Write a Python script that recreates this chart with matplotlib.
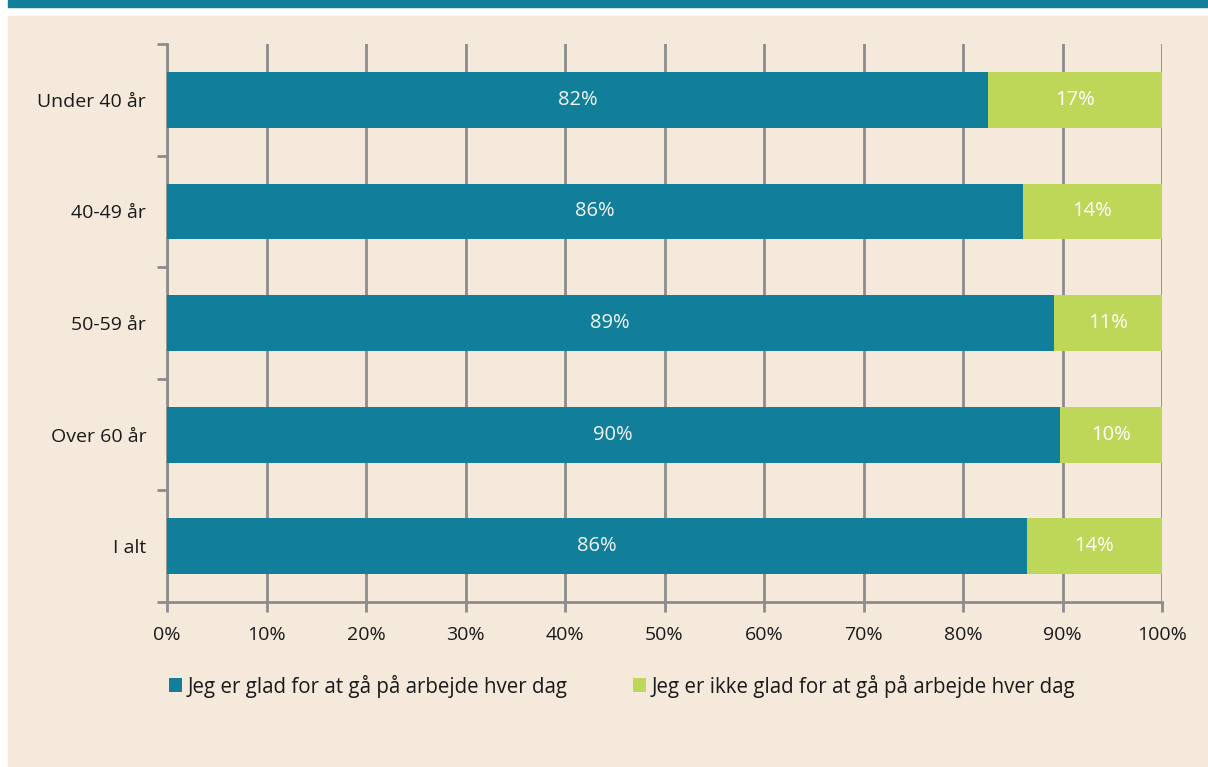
import matplotlib
matplotlib.use("Agg")
import matplotlib.pyplot as plt
from matplotlib.patches import Rectangle
import numpy as np

plt.rcParams["font.family"] = ["Open Sans", "DejaVu Sans"]

# ── Data ──────────────────────────────────────────────────────────────────────
categories = ["Under 40 år", "40-49 år", "50-59 år", "Over 60 år", "I alt"]
glad = [82.5, 86.0, 89.1, 89.7, 86.4]
ikke_glad = [17.5, 14.0, 10.9, 10.3, 13.6]
glad_labels = ["82%", "86%", "89%", "90%", "86%"]
ikke_labels = ["17%", "14%", "11%", "10%", "14%"]
series_names = ["Jeg er glad for at gå på arbejde hver dag",
                "Jeg er ikke glad for at gå på arbejde hver dag"]
x_ticks = list(range(0, 101, 10))

TEAL = "#117E9A"
GREEN = "#BDD758"
BEIGE = "#F5E9DC"
GRID = "#8C8C8C"
TEXT = "#1A1A1A"
FS = 14

W, H = 1208, 767
fig = plt.figure(figsize=(W / 100, H / 100), dpi=100, facecolor="white")

# background panels (behind the axes)
fig.patches.append(Rectangle((8 / W, 0), 1 - 8 / W, (H - 16) / H,
                             transform=fig.transFigure, color=BEIGE, zorder=-10))
fig.patches.append(Rectangle((8 / W, (H - 7) / H), 1 - 8 / W, 7 / H,
                             transform=fig.transFigure, color=TEAL, zorder=-10))

ax = fig.add_axes([167 / W, (H - 602) / H, (1162 - 167) / W, (602 - 44) / H])
ax.set_facecolor("none")

y = np.arange(len(categories)) + 0.5
ax.barh(y, glad, height=0.5, color=TEAL, zorder=3, label=series_names[0])
ax.barh(y, ikke_glad, left=glad, height=0.5, color=GREEN, zorder=3,
        label=series_names[1])

for yi, g, n, gl, nl in zip(y, glad, ikke_glad, glad_labels, ikke_labels):
    ax.text(g / 2, yi, gl, ha="center", va="center", color="#F4F4F4",
            fontsize=14.5, zorder=4)
    ax.text(g + n / 2, yi, nl, ha="center", va="center", color="white",
            fontsize=14.5, zorder=4)

ax.set_xlim(0, 100)
ax.set_ylim(len(categories), 0)
ax.set_xticks(x_ticks)
ax.set_xticklabels([f"{t}%" for t in x_ticks])
ax.xaxis.grid(True, color=GRID, linewidth=2, zorder=1)
ax.set_axisbelow(True)

ax.set_yticks(np.arange(len(categories) + 1))
ax.set_yticklabels([])
ax.set_yticks(y, minor=True)
ax.set_yticklabels(categories, minor=True)
ax.tick_params(axis="y", which="major", length=7, width=2, color=GRID)
ax.tick_params(axis="y", which="minor", length=0, pad=15)
ax.tick_params(axis="x", length=7, width=2, color=GRID, pad=10)
ax.tick_params(which="both", labelsize=FS, labelcolor=TEXT)

for side in ["top", "right"]:
    ax.spines[side].set_visible(False)
for side in ["left", "bottom"]:
    ax.spines[side].set_color(GRID)
    ax.spines[side].set_linewidth(2)

fig.legend(loc="center", bbox_to_anchor=(622 / W, (H - 686) / H), ncol=2,
           frameon=False, fontsize=14.8, handlelength=0.65, handleheight=0.65,
           handletextpad=0.25, columnspacing=3.2, labelcolor=TEXT)

fig.savefig("out.png", dpi=100, facecolor="white")
